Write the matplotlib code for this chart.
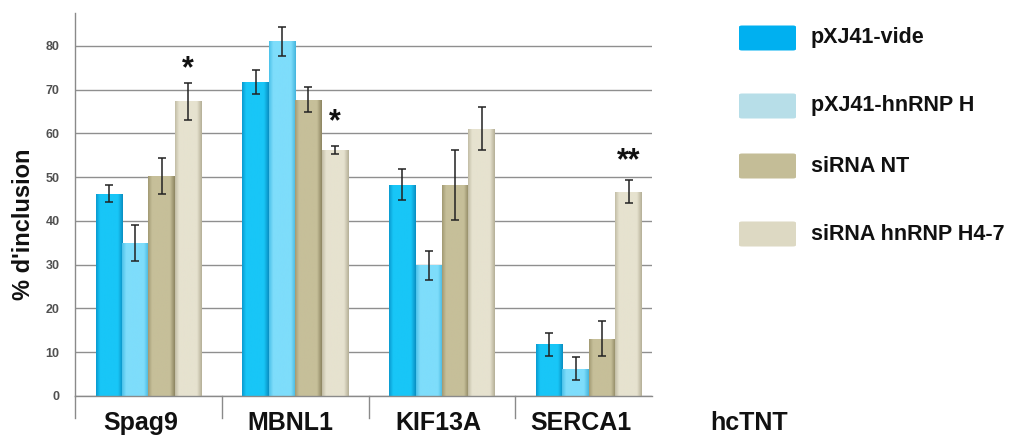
import numpy as np
import matplotlib
matplotlib.use("Agg")
import matplotlib.pyplot as plt
from matplotlib.colors import LinearSegmentedColormap
from matplotlib.patches import FancyBboxPatch
from matplotlib.lines import Line2D

plt.rcParams['font.family'] = ['Liberation Sans', 'DejaVu Sans']

categories = ["Spag9", "MBNL1", "KIF13A", "SERCA1", "hcTNT"]
series = ["pXJ41-vide", "pXJ41-hnRNP H", "siRNA NT", "siRNA hnRNP H4-7"]
values = {
    "pXJ41-vide":       [46.2, 71.8, 48.3, 11.8],
    "pXJ41-hnRNP H":    [35.0, 81.0, 29.9, 6.2],
    "siRNA NT":         [50.3, 67.7, 48.3, 13.1],
    "siRNA hnRNP H4-7": [67.3, 56.2, 61.1, 46.7],
}
errors = {
    "pXJ41-vide":       [1.9, 2.7, 3.6, 2.7],
    "pXJ41-hnRNP H":    [4.1, 3.3, 3.3, 2.6],
    "siRNA NT":         [4.1, 2.9, 8.0, 4.0],
    "siRNA hnRNP H4-7": [4.3, 1.0, 5.0, 2.7],
}
# significance marks: (category index, series index, label, height of mark)
stars = [(0, 3, "*", 76.0), (1, 3, "*", 63.7), (3, 3, "**", 55.0)]
yticks = [0, 10, 20, 30, 40, 50, 60, 70, 80]

legend_colors = ["#00B0F0", "#B7DEE8", "#C4BD97", "#DDD9C3"]
bar_shades = [
    ("#0A9BD0", "#18C6F7", "#18C6F7", "#0A8FC2"),
    ("#4CC2EA", "#7EDDFB", "#7EDDFB", "#45B6DE"),
    ("#A39B74", "#C6BF99", "#C6BF99", "#8E8662"),
    ("#C3BEA6", "#E6E2CF", "#E6E2CF", "#B5B098"),
]
label_shift = [-0.054, -0.034, -0.027, -0.054, 0.09]

W, H = 1011, 437
fig = plt.figure(figsize=(W / 100, H / 100), dpi=100)
ax_left, ax_right, ax_bot, ax_top = 75, 652, 396, 13
ax = fig.add_axes([ax_left / W, (H - ax_bot) / H, (ax_right - ax_left) / W, (ax_bot - ax_top) / H])

ax.set_xlim(-0.5, 3.43)
ax.set_ylim(0, 87.5)

for spine in ["top", "right", "bottom"]:
    ax.spines[spine].set_visible(False)
ax.spines["left"].set_color("#8a8a8a")
ax.spines["left"].set_linewidth(1.0)

ax.set_yticks(yticks)
ax.set_yticklabels([str(t) for t in yticks], fontsize=9, color="#505050", fontweight="bold")
ax.tick_params(axis="y", length=0, pad=11)
ax.set_xticks([])
for t in yticks:
    ax.axhline(t, color="#8f8f8f", linewidth=1.0, zorder=0)

bw = 0.18
x = np.arange(4)
for i, s in enumerate(series):
    pos = x + (i - 1.5) * bw
    bars = ax.bar(pos, values[s], width=bw, color=legend_colors[i], edgecolor="none", zorder=2)
    c = bar_shades[i]
    cmap = LinearSegmentedColormap.from_list("c%d" % i, [(0, c[0]), (0.15, c[1]), (0.82, c[2]), (1, c[3])])
    grad = np.linspace(0, 1, 64).reshape(1, -1)
    for b in bars:
        x0, w_, h_ = b.get_x(), b.get_width(), b.get_height()
        im = ax.imshow(grad, cmap=cmap, extent=[x0, x0 + w_, 0, h_], aspect="auto", zorder=2.5)
        im.set_clip_path(b)
    ax.errorbar(pos, values[s], yerr=errors[s], fmt="none", ecolor="#222222",
                elinewidth=1.1, capsize=3, capthick=1.1, zorder=4)

for ci, si, lab, yc in stars:
    xp = ci + (si - 1.5) * bw
    ax.text(xp, yc - 4.7, lab, ha="center", va="bottom", fontsize=22, fontweight="bold",
            color="#111111", zorder=5)

# x axis line and category separators
ax.plot([-0.5, 3.43], [0, 0], color="#8a8a8a", linewidth=1.0, zorder=3, clip_on=False)
sep_depth = 22 / (ax_bot - ax_top)
for xs in [-0.5, 0.5, 1.5, 2.5]:
    ax.add_line(Line2D([xs, xs], [0, -sep_depth], transform=ax.get_xaxis_transform(),
                       color="#8a8a8a", linewidth=1.0, clip_on=False))

for ci, c in enumerate(categories):
    ax.text(ci + label_shift[ci], -27 / (ax_bot - ax_top), c, transform=ax.get_xaxis_transform(),
            ha="center", va="center", fontsize=18, fontweight="bold", color="#111111", clip_on=False)

fig.text(24 / W, 1 - 224 / H, "% d'inclusion", rotation=90, ha="center", va="center",
         fontsize=17, fontweight="bold", color="#111111")

# legend
leg_y = [38, 106, 166, 234]
for i, s in enumerate(series):
    yc = leg_y[i]
    fig.patches.append(FancyBboxPatch((739 / W, 1 - (yc + 12.5) / H), 57 / W, 25 / H,
                                      boxstyle="round,pad=0,rounding_size=0.003",
                                      transform=fig.transFigure, facecolor=legend_colors[i],
                                      edgecolor="none"))
    fig.text(811 / W, 1 - yc / H, s, ha="left", va="center", fontsize=15.5,
             fontweight="bold", color="#111111")

fig.savefig("out.png", dpi=100)
